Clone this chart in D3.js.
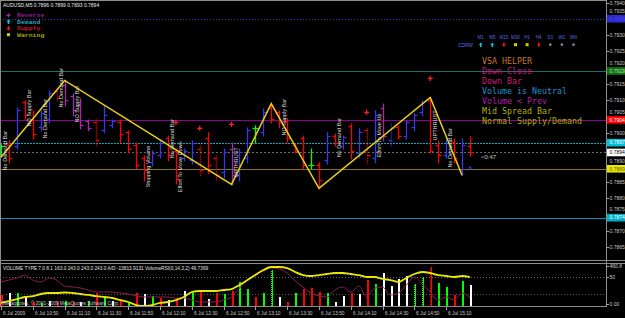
<!DOCTYPE html>
<html><head><meta charset="utf-8">
<script src="https://cdn.jsdelivr.net/npm/d3@7/dist/d3.min.js"></script>
<style>html,body{margin:0;padding:0;background:#000;overflow:hidden}svg{display:block}</style>
</head><body>
<script>
// ---------------- DATA ----------------
const symbolHeader = "AUDUSD,M5  0.7896 0.7899 0.7893 0.7894";
const startTime = "2009-07-06T10:30";
const barCount = 60;
const barColor = ["g","r","b","r","r","b","b","rd","p","p","p","p","rd","b","b","r","r","r","r","b",
  "b","r","r","b","b","rd","r","rd","b","p","b","b","g","b","r","r","r","r","r","g",
  "r","b","r","b","r","b","rd","b","p","bd","r","b","b","b","r","r","b","r","b","r"];
const opens = [0.78946,0.78962,0.78959,0.79094,0.79044,0.79017,0.79044,0.79130,0.79146,0.79112,
  0.79090,0.79035,0.79032,0.79008,0.79023,0.79032,0.79002,0.78962,0.78922,0.78910,
  0.78931,0.78983,0.78946,0.78922,0.78916,0.78952,0.78983,0.78922,0.78879,0.78952,
  0.78870,0.78922,0.79014,0.79002,0.79075,0.79063,0.79038,0.78962,0.78983,0.78903,
  0.78903,0.78916,0.78992,0.78959,0.79020,0.78937,0.79008,0.78922,0.79075,0.78977,
  0.79017,0.78992,0.79017,0.79063,0.79100,0.78962,0.78931,0.78971,0.78885,0.78960];
const highs = [0.78965,0.78977,0.79078,0.79100,0.79069,0.79069,0.79130,0.79136,0.79161,0.79121,
  0.79106,0.79041,0.79041,0.79084,0.79041,0.79041,0.79008,0.78971,0.78931,0.78946,
  0.78977,0.78992,0.78952,0.78952,0.78977,0.78962,0.79002,0.78931,0.78952,0.78971,
  0.78952,0.79017,0.79023,0.79075,0.79090,0.79069,0.79044,0.78968,0.78992,0.78952,
  0.78910,0.79002,0.78998,0.78992,0.79029,0.79014,0.79014,0.79069,0.79090,0.79029,
  0.79023,0.79038,0.79060,0.79100,0.79109,0.78977,0.78983,0.78983,0.78983,0.78990];
const lows = [0.78928,0.78910,0.78952,0.79044,0.78983,0.79008,0.79032,0.79100,0.79084,0.79054,
  0.79014,0.79008,0.78962,0.79002,0.79017,0.78971,0.78940,0.78891,0.78854,0.78900,
  0.78925,0.78916,0.78845,0.78916,0.78906,0.78870,0.78876,0.78854,0.78864,0.78842,
  0.78854,0.78910,0.78971,0.78992,0.79032,0.79017,0.78971,0.78940,0.78891,0.78891,
  0.78830,0.78906,0.78962,0.78952,0.78922,0.78925,0.78910,0.78910,0.78977,0.78962,
  0.78983,0.78983,0.79008,0.79054,0.78940,0.78910,0.78925,0.78910,0.78870,0.78930];
const closes = [0.78959,0.78922,0.79069,0.79054,0.78998,0.79060,0.79121,0.79106,0.79100,0.79069,
  0.79023,0.79014,0.78977,0.79054,0.79038,0.78998,0.78952,0.78900,0.78885,0.78937,
  0.78968,0.78931,0.78860,0.78946,0.78968,0.78885,0.78900,0.78870,0.78940,0.78870,
  0.78940,0.79008,0.79014,0.79063,0.79044,0.79032,0.78983,0.78946,0.78900,0.78903,
  0.78854,0.78992,0.78968,0.78986,0.78946,0.79002,0.78931,0.79054,0.78992,0.79014,
  0.78992,0.79032,0.79054,0.79094,0.78946,0.78931,0.78977,0.78922,0.78962,0.78940];

const zigzagBars = [0, 8, 29, 34, 40, 54, 58];
const zigzagPrices = [0.78925, 0.79161, 0.78842, 0.79090, 0.78830, 0.79109, 0.78870];

const signalBars = [22, 25, 29, 46, 54];
const signalPrices = [0.79032, 0.79014, 0.79026, 0.79063, 0.79167];
const caretBars = [59];
const caretPrices = [0.78891];

const noteText = ["No Demand Bar","NO Supply Bar","No Demand Bar","No Demand Bar","NO Supply Bar",
  "Stopping Volume","No Demand Bar","Effort To Move Down","UPTHRUST","NO Supply Bar",
  "No Demand Bar","Effort To Move Up","UPTHRUST","No Demand Bar"];
const noteBars = [0,3,5,7,9,18,21,22,29,35,42,47,54,56];
const notePrices = [0.78885,0.79020,0.78983,0.79078,0.79032,0.78833,0.78922,0.78818,0.78864,0.78992,
  0.78925,0.78925,0.78977,0.78894];

const levelPrices = [0.7935, 0.7919, 0.7904, 0.7897, 0.7894, 0.7889, 0.7874];
const levelLabels = ["0.7935","0.7919","0.7904","0.7897","0.7894","0.7889","0.7874"];
const priceTicks = [0.7940,0.7935,0.7930,0.7925,0.7920,0.7915,0.7910,0.7905,0.7900,0.7895,0.7890,0.7885,0.7880,0.7875,0.7870,0.7865];

const timeTicks = ["10:30","10:50","11:10","11:30","11:50","12:10","12:30","12:50","13:10","13:30","13:50","14:10","14:30","14:50","15:10"];
const timeTickLabels = ["6 Jul 2009","6 Jul 10:50","6 Jul 11:10","6 Jul 11:30","6 Jul 11:50","6 Jul 12:10","6 Jul 12:30","6 Jul 12:50","6 Jul 13:10","6 Jul 13:30","6 Jul 13:50","6 Jul 14:10","6 Jul 14:30","6 Jul 14:50","6 Jul 15:10"];

const volumes = [127,150,150,115,50,40,55,45,60,50,45,55,150,92,60,81,50,150,138,115,
  92,69,92,173,150,173,81,150,138,173,276,196,104,150,415,104,46,150,196,207,
  161,150,46,115,150,138,300,253,380,230,311,346,253,334,450,265,219,127,288,242];
const volumeColor = ["r","w","g","w","r","g","w","r","g","r","w","g","r","g","w","r","g","r","w","g",
  "r","w","r","w","g","r","w","r","g","r","g","g","r","g","gd","w","r","g","r","r",
  "r","g","w","w","r","w","r","g","w","w","w","w","gd","gd","rd","g","g","r","g","w"];
const volumeRSI = [5.2,8.6,12,15.5,17,20.7,22.4,22.4,23.3,22.4,20.7,19,17,15.5,13.8,10.3,6.9,1.7,0,1.7,
  5.2,6.9,10.3,15.5,24.1,25.9,25.9,25.9,27.6,29.3,36.2,44.8,53.4,62,67.2,67.2,65.5,58.6,53.4,51.7,
  53.4,55.2,56.9,56.9,55.2,53.4,50,50,46.6,44.8,41.4,48.3,55.2,58.6,56.9,53.4,51.7,50,51.7,49.7];
const adLine = [41.4,44.8,48.3,53.4,44.8,41.4,48.3,44.8,34.5,32.8,31,27.6,24.1,24.1,24.1,22.4,20.7,17.2,15.5,15.5,
  15.5,15.5,13.8,13.8,10.3,6.9,6.9,6.9,10.3,15.5,31,44.8,55.2,60.3,65.5,63.8,56.9,43.1,32.8,22.4,
  17.2,15.5,27.6,32.8,24.1,34.5,15.5,31,32.8,19,22.4,36.2,50,37.9,24.1,10.3,15.5,10.3,22.4,13.8];
const volumeMax = 460.8;
const volumeHeader = "VOLUME TYPE 7.0 8.1 163.0 243.0 243.0 243.0  A/D -13813.9131  VolumeRSI(0,14,3,2) 49.7369";
const copyright = "Metaquotes, \u00a9 2001-2009 MetaQuotes Software Corp.";
const countdown = "<0:47";

const legendLabels = ["Reverse","Demand","Supply","Warning"];
const legendIcons = ["plus","up","down","warn"];
const helperLines = ["VSA HELPER","Down Close","Down Bar","Volume is Neutral","Volume < Prev","Mid Spread Bar","Normal Supply/Demand"];
const tfLabels = ["M1","M5","M15","M30","H1","H4","D1","W1","MN"];
const tfSignals = ["up","up","down","warn","warn","down","none","none","none"];
const tfRowLabel = "CDRW";

// ---------------- DRAWING ----------------
const W = 625, H = 318, AX = 606, MAINB = 259, VTOP = 263, VBOT = 306;
const svg = d3.select("body").append("svg").attr("width", W).attr("height", H)
  .style("background", "#000").style("font-family", "'Liberation Sans', Arial, sans-serif");

const parse = d3.timeParse("%Y-%m-%dT%H:%M");
const t0 = parse(startTime);
const times = d3.range(barCount).map(i => d3.timeMinute.offset(t0, 5 * i));
const x = d3.scaleTime().domain([times[0], times[barCount - 1]]).range([1, 470]);
const y = d3.scaleLinear().domain([0.7865, 0.7940]).range([247, 2.5]);
const yVol = d3.scaleLinear().domain([0, volumeMax]).range([VBOT, 266]);
const yOsc = d3.scaleLinear().domain([0, 100]).range([VBOT, 248]);

const defs = svg.append("defs");
defs.append("clipPath").attr("id", "cm").append("rect").attr("x", 0).attr("y", 0).attr("width", AX).attr("height", MAINB);
defs.append("clipPath").attr("id", "cv").append("rect").attr("x", 0).attr("y", VTOP + 1).attr("width", AX).attr("height", VBOT - VTOP - 1);

const main = svg.append("g").attr("clip-path", "url(#cm)");

// level lines
const levelStyle = [
  {c:"#3a3ad0", d:"1,2"}, {c:"#1a7070", d:null}, {c:"#900090", d:null}, {c:"#10a8c8", d:"2,1"},
  {c:"#6a6a6a", d:"2,2"}, {c:"#8a7020", d:null}, {c:"#1090b0", d:null}];
levelPrices.forEach((p, i) => {
  const yy = Math.round(y(p)) + 0.5;
  main.append("line").attr("x1", 0).attr("x2", AX).attr("y1", yy).attr("y2", yy)
    .attr("stroke", levelStyle[i].c).attr("stroke-width", 1)
    .attr("stroke-dasharray", levelStyle[i].d);
});

// bars
const colMap = {b:"#3838e8", bd:"#3838e8", r:"#ff0000", rd:"#ff0000", p:"#a828b0", g:"#00ff00"};
const gb = main.append("g");
times.forEach((t, i) => {
  const cx = Math.round(x(t)) + 0.5;
  const c = colMap[barColor[i]];
  const dash = barColor[i].endsWith("d") ? "1,1" : null;
  gb.append("line").attr("x1", cx).attr("x2", cx).attr("y1", y(highs[i])).attr("y2", y(lows[i]) + 1)
    .attr("stroke", c).attr("stroke-width", 1.3).attr("stroke-dasharray", dash);
  const yo = Math.round(y(opens[i])) + 0.5, yc = Math.round(y(closes[i])) + 0.5;
  gb.append("line").attr("x1", cx - 3).attr("x2", cx).attr("y1", yo).attr("y2", yo).attr("stroke", c).attr("stroke-width", 1.2);
  gb.append("line").attr("x1", cx).attr("x2", cx + 3).attr("y1", yc).attr("y2", yc).attr("stroke", c).attr("stroke-width", 1.2);
});

// zigzag
main.append("path")
  .attr("d", d3.line().x((b) => x(times[b])).y((b, k) => y(zigzagPrices[k]))(zigzagBars))
  .attr("fill", "none").attr("stroke", "#e8d010").attr("stroke-width", 1.5);

// notes
noteText.forEach((t, i) => {
  const cx = x(times[noteBars[i]]) + 4.5;
  main.append("text").attr("transform", `translate(${cx + 1.8},${y(notePrices[i])}) rotate(-90)`)
    .attr("font-size", 5.5).attr("fill", "#dcdcdc").text(t);
});

// signal crosses
signalBars.forEach((b, i) => {
  const cx = x(times[b]), cy = y(signalPrices[i]);
  main.append("path").attr("d", `M${cx - 2.5},${cy}H${cx + 2.5}M${cx},${cy - 2.5}V${cy + 2.5}`)
    .attr("stroke", "#ff2020").attr("stroke-width", 1.3);
});
caretBars.forEach((b, i) => {
  const cx = x(times[b]), cy = y(caretPrices[i]);
  main.append("path").attr("d", `M${cx - 2.5},${cy + 2}L${cx},${cy - 2}L${cx + 2.5},${cy + 2}`)
    .attr("fill", "none").attr("stroke", "#3a3aff").attr("stroke-width", 1);
});

// countdown
main.append("text").attr("x", x(times[barCount - 1]) + 11).attr("y", y(closes[barCount - 1]) + 6.5)
  .attr("font-size", 6).attr("fill", "#c0c0c0").text(countdown);

// header
svg.append("text").attr("x", 3).attr("y", 7).attr("font-size", 5).attr("fill", "#e8e8e8").text(symbolHeader);

// legend
const mono = "'Liberation Mono', 'DejaVu Sans Mono', monospace";
function icon(g, kind, cx, cy, s) {
  s = s || 1;
  if (kind === "up") {
    g.append("path").attr("d", `M${cx - 2.5*s},${cy}L${cx},${cy - 3*s}L${cx + 2.5*s},${cy}Z M${cx - 1*s},${cy}h${2*s}v${3*s}h${-2*s}Z`).attr("fill", "#00d0e0");
  } else if (kind === "down") {
    g.append("path").attr("d", `M${cx - 2.5*s},${cy}L${cx},${cy + 3*s}L${cx + 2.5*s},${cy}Z M${cx - 1*s},${cy}h${2*s}v${-3*s}h${-2*s}Z`).attr("fill", "#ff1010");
  } else if (kind === "warn") {
    g.append("rect").attr("x", cx - 1.5).attr("y", cy - 1.5).attr("width", 3).attr("height", 3).attr("fill", "#d0d000");
  } else if (kind === "plus") {
    g.append("path").attr("d", `M${cx - 2},${cy}H${cx + 2}M${cx},${cy - 2}V${cy + 2}`).attr("stroke", "#b020b0").attr("stroke-width", 1.2);
  } else {
    g.append("circle").attr("cx", cx).attr("cy", cy).attr("r", 1.4).attr("fill", "#808080");
  }
}
const legendColors = ["#9a1a9a", "#20a8b8", "#c01838", "#a8a800"];
const legendY = [15.3, 21.7, 28.3, 34.7];
legendLabels.forEach((t, i) => {
  icon(svg, legendIcons[i], 8.5, legendY[i], 0.8);
  svg.append("text").attr("x", 17).attr("y", legendY[i] + 2).attr("font-family", mono)
    .attr("font-size", 5.2).attr("font-weight", "bold")
    .attr("textLength", t.length * 3.9).attr("lengthAdjust", "spacingAndGlyphs")
    .attr("fill", legendColors[i]).text(t);
});

// timeframe panel
tfLabels.forEach((t, i) => {
  const cx = 480.7 + i * 11.6;
  svg.append("text").attr("x", cx).attr("y", 38.5).attr("text-anchor", "middle")
    .attr("font-size", 4.5).attr("fill", "#5a6ae0").text(t);
  icon(svg, tfSignals[i], cx, 44.7, 0.75);
});
svg.append("text").attr("x", 458).attr("y", 46.5).attr("font-size", 4.8).attr("fill", "#5a6ae0").text(tfRowLabel);

// VSA helper
const helperColors = ["#c8782a", "#c8187a", "#c8187a", "#2090c8", "#b020a8", "#b0b000", "#b0b000"];
helperLines.forEach((t, i) => {
  svg.append("text").attr("x", 482).attr("y", 63.5 + i * 10).attr("font-family", "'DejaVu Sans Mono', monospace")
    .attr("font-size", 8.3).attr("fill", helperColors[i]).text(t);
});

// right price axis: tick labels that collide with a level box are nudged above it, or dropped
const axg = svg.append("g");
const boxYs = levelPrices.map(p => y(p));
const placed = [];
priceTicks.forEach(p => {
  const yy = Math.round(y(p)) + 0.5;
  axg.append("line").attr("x1", AX).attr("x2", AX + 3).attr("y1", yy).attr("y2", yy).attr("stroke", "#a0a0a0");
  let ly = yy;
  const hit = boxYs.filter(b => Math.abs(b - ly) < 7.8);
  if (hit.length) ly = Math.min(...hit) - 8;
  const clash = boxYs.some(b => Math.abs(b - ly) < 7.8) || placed.some(q => Math.abs(q - ly) < 7) ||
    priceTicks.some(q => q !== p && Math.abs(y(q) - ly) < 7 && !boxYs.some(b => Math.abs(b - y(q)) < 7.8));
  if (hit.length && clash) return;
  placed.push(ly);
  axg.append("text").attr("x", AX + 3.5).attr("y", ly + 1.8).attr("font-size", 5).attr("fill", "#c8c8c8").text(d3.format(".4f")(p));
});
const boxStyle = [
  {bg:"#2a2ac8", fg:"#4a4ae8"}, {bg:"#0a7a0a", fg:"#c8c8c8"}, {bg:"#ff0000", fg:"#ffffff"},
  {bg:"#00c0d8", fg:"#ffffff"}, {bg:"#ffffff", fg:"#000000"}, {bg:"#e8e800", fg:"#606000"},
  {bg:"#00b0c8", fg:"#ffffff"}];
levelPrices.forEach((p, i) => {
  const yy = y(p);
  axg.append("rect").attr("x", AX + 1).attr("y", yy - 3.8).attr("width", W - AX - 1).attr("height", 7.6).attr("fill", boxStyle[i].bg);
  axg.append("text").attr("x", AX + 3.5).attr("y", yy + 1.8).attr("font-size", 5).attr("fill", boxStyle[i].fg).text(levelLabels[i]);
});

// frame lines
const fr = svg.append("g").attr("stroke", "#8c8c8c").attr("shape-rendering", "crispEdges");
fr.append("line").attr("x1", AX + 0.5).attr("x2", AX + 0.5).attr("y1", 0).attr("y2", VBOT + 1);
fr.append("line").attr("x1", 0.5).attr("x2", 0.5).attr("y1", 0).attr("y2", VBOT + 1);
fr.append("line").attr("x1", 0).attr("x2", AX).attr("y1", 0.5).attr("y2", 0.5);
fr.append("line").attr("x1", 0).attr("x2", W).attr("y1", MAINB + 1.5).attr("y2", MAINB + 1.5);
fr.append("line").attr("x1", 0).attr("x2", W).attr("y1", VTOP + 0.5).attr("y2", VTOP + 0.5);
fr.append("line").attr("x1", 0).attr("x2", AX).attr("y1", VBOT + 0.5).attr("y2", VBOT + 0.5);

// volume panel
const vp = svg.append("g").attr("clip-path", "url(#cv)");
vp.append("line").attr("x1", 0).attr("x2", AX).attr("y1", Math.round(yOsc(50)) + 0.5).attr("y2", Math.round(yOsc(50)) + 0.5)
  .attr("stroke", "#6a6a6a").attr("stroke-dasharray", "1,2");
vp.append("line").attr("x1", 0).attr("x2", AX).attr("y1", 294.5).attr("y2", 294.5)
  .attr("stroke", "#5a5a5a").attr("stroke-dasharray", "1,2");
const vcol = {w:"#ffffff", g:"#00ff00", gd:"#00ff00", r:"#ff0000", rd:"#ff0000"};
const vg = vp.append("g").attr("shape-rendering", "crispEdges");
times.forEach((t, i) => {
  const cx = Math.round(x(t));
  vg.append("rect").attr("x", cx - 0.5).attr("y", yVol(volumes[i])).attr("width", 2)
    .attr("height", VBOT - yVol(volumes[i])).attr("fill", vcol[volumeColor[i]]);
  if (volumeColor[i].endsWith("d")) {
    vg.append("line").attr("x1", cx + 0.5).attr("x2", cx + 0.5).attr("y1", yVol(volumes[i])).attr("y2", VBOT)
      .attr("stroke", "#000").attr("stroke-width", 1).attr("stroke-dasharray", "1,1");
  }
});
vp.append("path").attr("d", d3.line().curve(d3.curveMonotoneX).x((d, i) => x(times[i])).y(d => yOsc(d))(adLine))
  .attr("fill", "none").attr("stroke", "#8a1f4f").attr("stroke-width", 1);
vp.append("path").attr("d", d3.line().curve(d3.curveMonotoneX).x((d, i) => x(times[i])).y(d => yOsc(d))(volumeRSI))
  .attr("fill", "none").attr("stroke", "#e8e800").attr("stroke-width", 1.8);

svg.append("text").attr("x", 3).attr("y", 270).attr("font-size", 4.8).attr("fill", "#e0e0e0").text(volumeHeader);
svg.append("text").attr("x", 3).attr("y", 305).attr("font-size", 4.8).attr("fill", "#c8c8c8").text(copyright);

// volume axis
[[volumeMax, "460.8", yVol], [50, "50", yOsc], [0, "0.00", yVol]].forEach(([v, lab, sc]) => {
  const yy = Math.min(Math.round(sc(v)) + 0.5, VBOT - 1.5);
  svg.append("line").attr("x1", AX).attr("x2", AX + 3).attr("y1", yy).attr("y2", yy).attr("stroke", "#a0a0a0");
  svg.append("text").attr("x", AX + 3.5).attr("y", yy + 1.8).attr("font-size", 5).attr("fill", "#c8c8c8").text(lab);
});

// time axis
timeTicks.forEach((t, i) => {
  const xx = Math.round(x(parse("2009-07-06T" + t))) + 0.5;
  svg.append("line").attr("x1", xx).attr("x2", xx).attr("y1", VBOT + 1).attr("y2", VBOT + 4).attr("stroke", "#a0a0a0");
  svg.append("text").attr("x", xx + 1.5).attr("y", 314.5).attr("font-size", 4.8).attr("fill", "#c8c8c8").text(timeTickLabels[i]);
});
</script>
</body></html>
